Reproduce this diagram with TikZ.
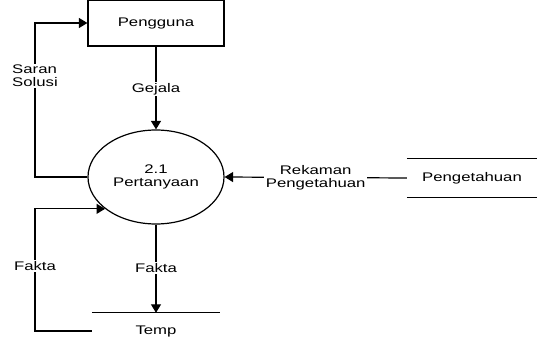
\documentclass[tikz,border=0pt]{standalone}
\usepackage{fontspec}
\setmainfont[FakeStretch=1.34]{Liberation Sans}
\usetikzlibrary{arrows.meta,shapes.geometric}
\begin{document}
\begin{tikzpicture}[x=1pt,y=-1pt,
  every node/.style={font=\fontsize{12.5}{13}\selectfont, inner sep=1pt},
  flow/.style={line width=1.2pt, -{Triangle[length=8.5pt,width=10pt]}},
  plain/.style={line width=1.2pt},
  lbl/.style={fill=white, align=center, inner sep=1.5pt}]
  \useasboundingbox (0,0) rectangle (537,339);

  % external entity and process
  \node[draw, line width=1.2pt, minimum width=136pt, minimum height=46pt] (user) at (156,23) {Pengguna};
  \node[draw, line width=1.2pt, ellipse, minimum width=136pt, minimum height=94pt, align=center] (proc) at (156,177) {2.1\\Pertanyaan};

  % data stores
  \node[minimum width=130pt, minimum height=38pt] (know) at (472,178) {Pengetahuan};
  \draw[plain] (know.north west) -- (know.north east);
  \draw[plain] (know.south west) -- (know.south east);
  \node[minimum width=128pt, minimum height=36pt] (temp) at (156,331) {Temp};
  \draw[plain] (temp.north west) -- (temp.north east);

  % routing column on the left
  \coordinate (sx) at (35,0);

  % data flows
  \draw[flow] (user) -- node[lbl, pos=0.51] {Gejala} (proc);
  \draw[flow] (proc.west) -- (proc.west -| sx) |- (user.west);
  \node[lbl, align=left] (saran) at (35,76) {Saran\\Solusi};
  \draw[flow] (temp.west) -- (temp.west -| sx) |- (proc.212.6);
  \node[lbl] (fakta1) at (35,266) {Fakta};
  \draw[flow] (proc.south) -- node[lbl, pos=0.49] {Fakta} (temp.north);
  \draw[flow] (know.west) -- node[lbl, pos=0.5] {Rekaman\\Pengetahuan} (proc.east);
\end{tikzpicture}
\end{document}
